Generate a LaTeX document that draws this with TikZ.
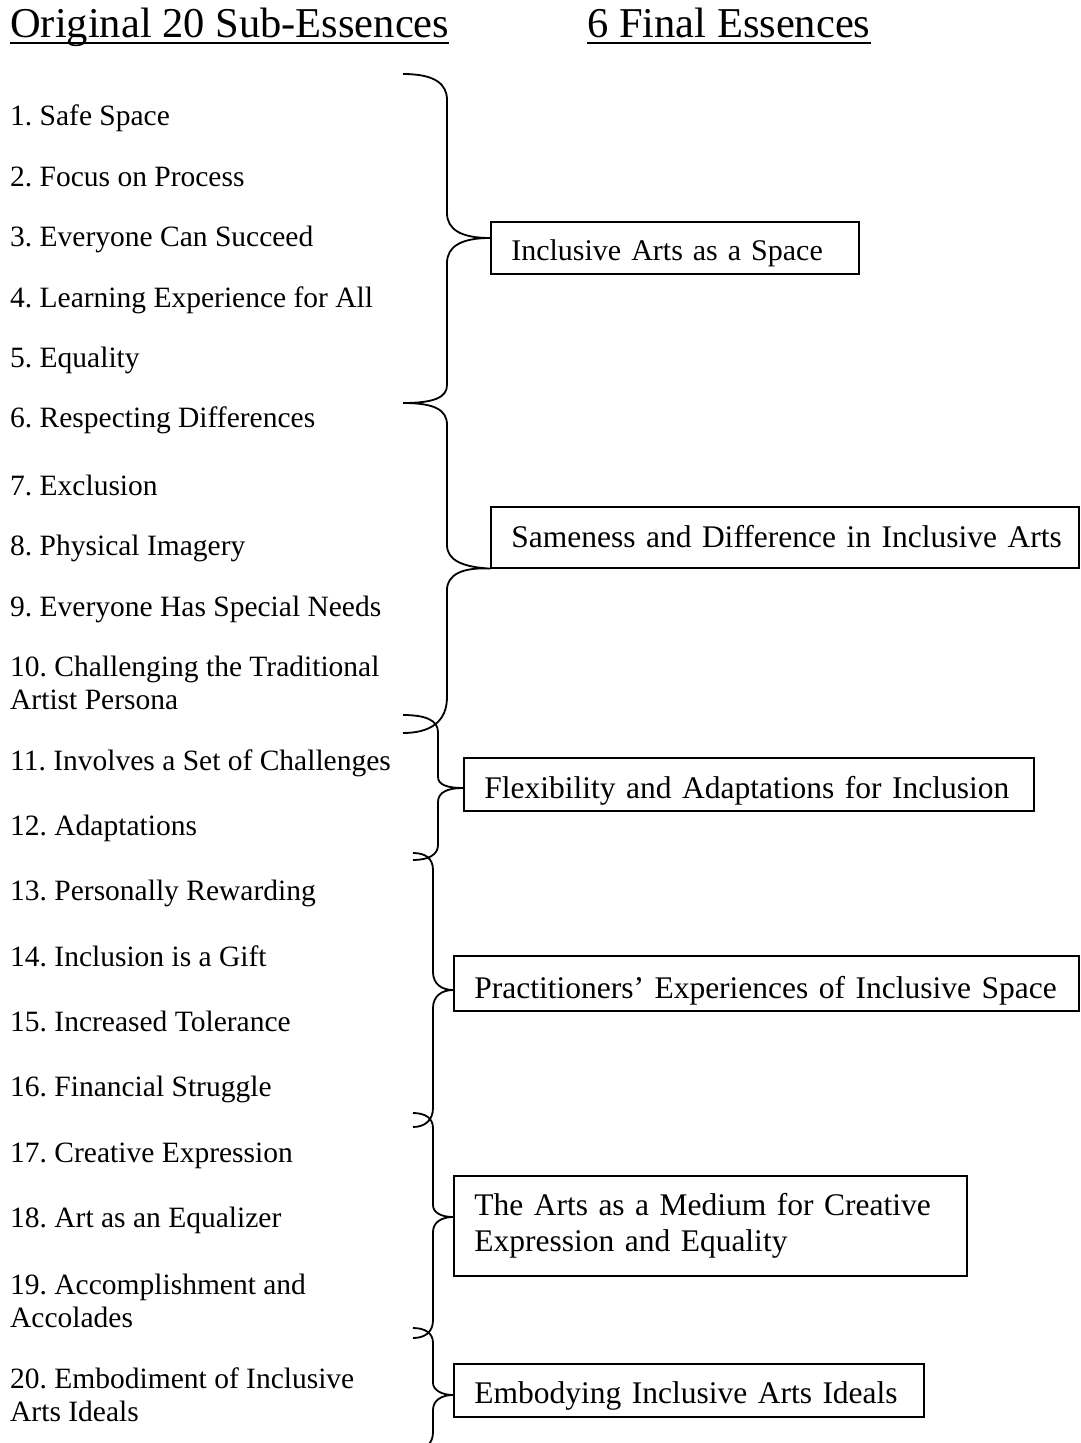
\documentclass[tikz,border=0pt]{standalone}
\usepackage{fontspec}
\setmainfont{Liberation Serif}
\frenchspacing
\begin{document}
\begin{tikzpicture}[x=1pt,y=-1pt,
  item/.style={anchor=base west, inner sep=0pt, font=\fontsize{29.5}{33}\selectfont, align=left},
  head/.style={anchor=base west, inner sep=0pt, font=\fontsize{42.5}{48}\selectfont},
  essence/.style={draw, line width=1.6pt, anchor=north west, inner xsep=20.5pt, inner ysep=0pt, align=left, font=\fontsize{31.5}{36}\selectfont},
  brace/.style={line width=1.8pt, line join=round},
  uline/.style={line width=2pt}]
\clip (0,0) rectangle (1080,1443);
\fill[white] (0,0) rectangle (1080,1443);
% headings
\node[head] (h1) at (10,37) {Original 20 Sub-Essences};
\node[head] (h2) at (587,37) {6 Final Essences};
\draw[uline] ([yshift=-6pt]h1.base west) -- ([yshift=-6pt]h1.base east);
\draw[uline] ([yshift=-6pt]h2.base west) -- ([yshift=-6pt]h2.base east);
% items
\node[item] (s1) at (10,125) {1. Safe Space};
\node[item] (s2) at (10,186) {2. Focus on Process};
\node[item] (s3) at (10,246) {3. Everyone Can Succeed};
\node[item] (s4) at (10,307) {4. Learning Experience for All};
\node[item] (s5) at (10,367) {5. Equality};
\node[item] (s6) at (10,427) {6. Respecting Differences};
\node[item] (s7) at (10,495) {7. Exclusion};
\node[item] (s8) at (10,555) {8. Physical Imagery};
\node[item] (s9) at (10,616) {9. Everyone Has Special Needs};
\node[item] (s10) at (10,709) {10. Challenging the Traditional\\Artist Persona};
\node[item] (s11) at (10,770) {11. Involves a Set of Challenges};
\node[item] (s12) at (10,835) {12. Adaptations};
\node[item] (s13) at (10,900) {13. Personally Rewarding};
\node[item] (s14) at (10,966) {14. Inclusion is a Gift};
\node[item] (s15) at (10,1031) {15. Increased Tolerance};
\node[item] (s16) at (10,1096) {16. Financial Struggle};
\node[item] (s17) at (10,1162) {17. Creative Expression};
\node[item] (s18) at (10,1227) {18. Art as an Equalizer};
\node[item] (s19) at (10,1327) {19. Accomplishment and\\Accolades};
\node[item] (s20) at (10,1421) {20. Embodiment of Inclusive\\Arts Ideals};
% essence boxes
\node[essence, text width=327pt, text height=39pt, text depth=13pt, font=\fontsize{30}{34}\selectfont] (e1) at (490,221) {\mbox{Inclusive Arts as a Space}};
\node[essence, text width=547pt, text height=40.5pt, text depth=20.5pt] (e2) at (490,506) {\mbox{Sameness and Difference in Inclusive Arts}};
\node[essence, text width=529pt, text height=40.5pt, text depth=12.5pt] (e3) at (463,757) {\mbox{Flexibility and Adaptations for Inclusion}};
\node[essence, text width=584pt, text height=42.5pt, text depth=12.5pt] (e4) at (453,955) {\mbox{Practitioners’ Experiences of Inclusive Space}};
\node[essence, text width=472pt, minimum height=100pt] (e5) at (453,1175) {The Arts as a Medium for Creative\\Expression and Equality};
\node[essence, text width=429pt, text height=40pt, text depth=13pt] (e6) at (453,1363) {\mbox{Embodying Inclusive Arts Ideals}};
% brace tips on the boxes
\coordinate (t1) at (e1.west |- 0,238);
\coordinate (t2) at (e2.south west);
\coordinate (t3) at (e3.west |- 0,788);
\coordinate (t4) at (e4.west |- 0,990);
\coordinate (t5) at (e5.west |- 0,1217);
\coordinate (t6) at (e6.west |- 0,1395);
% braces
\draw[brace] (403,74) .. controls (435,74) and (447,84) .. (447,100) -- (447,213)
  .. controls (447,230) and (462,238) .. (t1)
  .. controls (462,238) and (447,246) .. (447,263) -- (447,385)
  .. controls (447,397) and (435,403) .. (403,403);
\draw[brace] (403,403) .. controls (435,403) and (447,410) .. (447,425) -- (447,545)
  .. controls (447,560) and (462,567) .. (t2)
  .. controls (462,567) and (447,575) .. (447,590) -- (447,697)
  .. controls (447,722) and (430,733) .. (403,733);
\draw[brace] (403,715) .. controls (425,715) and (438,720) .. (438,732) -- (438,777)
  .. controls (438,785) and (448,788) .. (t3)
  .. controls (448,788) and (438,792) .. (438,802) -- (438,845)
  .. controls (438,855) and (428,860) .. (413,860);
\draw[brace] (413,853) .. controls (425,853) and (433,858) .. (433,870) -- (433,972)
  .. controls (433,984) and (442,990) .. (t4)
  .. controls (442,990) and (433,996) .. (433,1008) -- (433,1108)
  .. controls (433,1120) and (425,1127) .. (413,1127);
\draw[brace] (413,1113) .. controls (425,1113) and (433,1118) .. (433,1128) -- (433,1205)
  .. controls (433,1213) and (442,1217) .. (t5)
  .. controls (442,1217) and (433,1222) .. (433,1232) -- (433,1320)
  .. controls (433,1332) and (425,1338) .. (413,1338);
\draw[brace] (413,1328) .. controls (425,1328) and (433,1333) .. (433,1343) -- (433,1383)
  .. controls (433,1390) and (442,1395) .. (t6)
  .. controls (442,1395) and (433,1400) .. (433,1410) -- (433,1432)
  .. controls (433,1444) and (425,1450) .. (413,1450);
\end{tikzpicture}
\end{document}
